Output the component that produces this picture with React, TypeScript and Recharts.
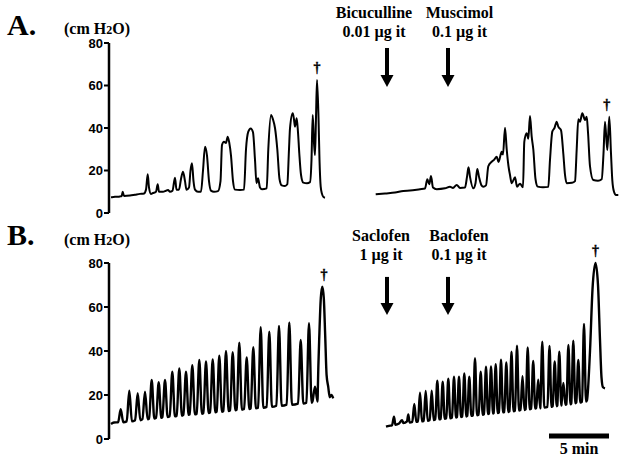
import { LineChart, Line, XAxis, YAxis, ReferenceDot, ReferenceLine } from "recharts"

// time axis is in seconds (5 min scale bar = 300 s), pressure in cm H2O
const timeDomain = [0, 2580]
const pressureTicks = [0, 20, 40, 60, 80]

// Panel A, control recording: [time, pressure]
const controlA: [number, number][] = [
  [10, 7.4], [30, 7.6], [55, 7.8], [63.5, 8], [68.5, 10], [75, 8], [105, 8.2], [130, 8.6],
  [155, 9], [175, 9.2], [185, 11], [193.5, 18.2], [200, 12], [210, 9], [220, 9.4], [235, 10],
  [243.5, 13.5], [250, 10], [270, 10], [285, 10.5], [295, 10.8], [305, 10], [317.5, 10.5],
  [330, 16.6], [337.5, 11], [350, 11], [360, 16], [370, 19.4], [380, 15], [387.5, 11], [400, 12],
  [407.5, 20], [415, 23.4], [422.5, 15], [430, 11], [445, 10], [460, 10], [470, 20], [480, 31.2],
  [490, 27], [500, 15], [510, 10.5], [525, 10], [545, 10.3], [557.5, 15], [565, 32], [575, 33.5],
  [585, 33], [593.5, 35.9], [601.5, 33], [610, 27], [620, 15], [630, 11], [655, 10.8], [675, 11],
  [685, 30], [696.5, 38.3], [708.5, 39.8], [720, 38], [730, 25], [737.5, 14], [745, 16.3],
  [755, 12], [765, 11.2], [788.5, 11.6], [796.5, 30], [810, 46.1], [820, 44], [830, 40],
  [841.5, 30], [852.5, 16], [863.5, 13], [880, 12.7], [891.5, 13.5], [900, 30], [905, 39.8],
  [918.5, 46.9], [925, 44], [930, 40.6], [938.5, 44.6], [945, 38], [951.5, 28], [960, 18],
  [971.5, 14.3], [990, 14], [1005, 14.5], [1012.5, 25], [1018.5, 46.1], [1025, 33], [1030, 27.3],
  [1035, 45], [1040, 62.6], [1047.5, 45], [1052.5, 25], [1058.5, 12.4], [1065, 9], [1072.5, 7.5],
  [1080, 7.2],
]

// Panel A, bicuculline / muscimol recording
const drugA: [number, number][] = [
  [1333.5, 8.8], [1380, 9.2], [1430, 9.6], [1471.5, 10.4], [1505, 10.6], [1555, 11.2], [1580, 11.5],
  [1591.5, 15.9], [1601.5, 13.5], [1610, 17.4], [1620, 12], [1638.5, 11.2], [1680, 11.6],
  [1705, 12.3], [1720, 11.8], [1738.5, 13.2], [1755, 11.8], [1780, 12], [1790, 17], [1797.5, 21.5],
  [1805, 17], [1821.5, 11.6], [1832.5, 14], [1841.5, 20.7], [1850, 17], [1862.5, 13],
  [1871.5, 12.4], [1885, 13], [1896.5, 22], [1913.5, 24.1], [1925, 25], [1938.5, 26.5],
  [1947.5, 24], [1963.5, 28.8], [1970, 27.5], [1980, 40.1], [1988.5, 30], [1997.5, 22],
  [2005, 17.9], [2013.5, 14], [2030, 16.8], [2040, 12.4], [2055, 13.8], [2070, 12.1],
  [2076.5, 33.5], [2088.5, 37.5], [2096.5, 35], [2105, 45.6], [2113.5, 35.9], [2121.5, 30],
  [2132.5, 16], [2143.5, 12.4], [2170, 12.1], [2196.5, 12.3], [2205, 25], [2216.5, 38.3],
  [2227.5, 40], [2238.5, 43], [2246.5, 40.6], [2260, 39], [2271.5, 28], [2280, 18], [2288.5, 14],
  [2315, 14.2], [2330, 15], [2338.5, 30], [2346.5, 44.1], [2355, 43], [2366.5, 46.9], [2380, 43.8],
  [2388.5, 45.3], [2395, 38], [2405, 22], [2421.5, 15.5], [2445, 15.2], [2463.5, 15.9],
  [2472.5, 28], [2480, 43], [2491.5, 29.6], [2501.5, 45.3], [2510, 28], [2516.5, 15.5],
  [2525, 10], [2535, 8.5], [2546.5, 8.5],
]

// Panel B, control recording: start, contractions [time, baseline, peak], end
const controlBStart: [number, number][] = [[10, 6.8], [25, 7.5]]
const controlBPeaks: [number, number, number][] = [
  [58.5, 7.6, 13.5], [101.5, 8, 22], [143.5, 8.5, 20.8], [180, 9, 21.5], [213.5, 9.3, 26.8],
  [248.5, 9.6, 25.8], [280, 10, 26.8], [316.5, 10.3, 30.6], [351.5, 10.6, 32.1], [385, 11, 30.6],
  [416.5, 11.2, 33.6], [451.5, 11.5, 35.9], [485, 11.8, 35.2], [518.5, 12.1, 36.2],
  [551.5, 12.4, 37.9], [585, 12.7, 40], [618.5, 13, 39.4], [651.5, 13.3, 43.8], [688.5, 13.6, 37.1],
  [721.5, 13.9, 41.7], [758.5, 14.2, 50.8], [801.5, 14.6, 48.8], [850, 15.1, 51.4],
  [901.5, 15.6, 53], [958.5, 16.1, 45], [1000, 16.5, 52.6], [1030, 17, 23.8],
]
const controlBEnd: [number, number][] = [
  [1044, 22], [1052, 48], [1059, 64], [1066.5, 69.2], [1074, 64], [1081, 47], [1088, 29],
  [1096, 23.8], [1104, 19], [1112, 20], [1121, 18.5],
]

// Panel B, saclofen / baclofen recording
const drugBStart: [number, number][] = [
  [1385, 5.6], [1400, 6], [1415, 6.2], [1425, 10.1], [1432, 6.5], [1450, 7], [1465, 8.6],
  [1472, 7.2], [1490, 8], [1496.5, 11.2], [1503, 7.5],
]
const drugBPeaks: [number, number, number][] = [
  [1526.5, 7.8, 15.9], [1555, 8, 21], [1583.5, 8.3, 21.8], [1613.5, 8.6, 22], [1641.5, 8.9, 26.5],
  [1668.5, 9.2, 26.1], [1696.5, 9.4, 27.4], [1725, 9.7, 28.3], [1750, 10, 28.3],
  [1776.5, 10.2, 29.8], [1801.5, 10.5, 28.3], [1830, 10.8, 36.7], [1858.5, 11, 30.6],
  [1885, 11.3, 32.9], [1910, 11.6, 33], [1933.5, 11.8, 34], [1960, 12.1, 36], [1986.5, 12.3, 34.8],
  [2012.5, 12.6, 39.7], [2040, 12.9, 42.4], [2067.5, 13.2, 28.5], [2093.5, 13.5, 41.6],
  [2121, 13.8, 35.5], [2146, 14, 27], [2166.5, 14.3, 44.2], [2202.5, 14.6, 42.3],
  [2228.5, 14.9, 35.2], [2251.5, 15.2, 39.7], [2272, 15.5, 25.5], [2297, 15.8, 42.7],
  [2321.5, 16.2, 44.7], [2346.5, 16.6, 35.9], [2375, 17, 52.3],
]
const drugBEnd: [number, number][] = [
  [2390, 17.7], [2405, 40], [2417.5, 68], [2432.5, 80], [2445, 70], [2455, 45], [2462.5, 28],
  [2470, 23.5], [2480, 23],
]

// drug injections (time in s)
const injectionsA = [
  { t: 1390, drug: "Bicuculline", dose: "0.01 µg it" },
  { t: 1695, drug: "Muscimol", dose: "0.1 µg it" },
]
const injectionsB = [
  { t: 1390, drug: "Saclofen", dose: "1 µg it" },
  { t: 1695, drug: "Baclofen", dose: "0.1 µg it" },
]

// † marks: animal death
const deathsA = [{ t: 1040, v: 62.6 }, { t: 2489, v: 45.3 }]
const deathsB = [{ t: 1075, v: 69.2 }, { t: 2433, v: 80 }]

const scaleBar = { start: 2200, length: 300, label: "5 min" }

const toPoints = (pairs: [number, number][]) => pairs.map(([t, v]) => ({ t, v }))

const fromPeaks = (
  start: [number, number][],
  peaks: [number, number, number][],
  end: [number, number][],
  halfWidth: number,
) => {
  const pairs: [number, number][] = [...start]
  peaks.forEach(([t, base, top]) => {
    pairs.push([t - halfWidth, base], [t, top], [t + halfWidth, base])
  })
  return toPoints([...pairs, ...end])
}

const serif = "'Liberation Serif', 'Times New Roman', serif"
const sans = "'Liberation Sans', Arial, sans-serif"

const arrowShape = (drug: string, dose: string, textDx: number, textDy: number, shaft: number) =>
  (p: any) => {
    const { cx, cy } = p
    return (
      <g>
        <text x={cx + textDx} y={cy + textDy} textAnchor="middle" fontFamily={serif} fontWeight="bold" fontSize={16} fill="#000">
          {drug}
        </text>
        <text x={cx + textDx} y={cy + textDy + 19} textAnchor="middle" fontFamily={serif} fontWeight="bold" fontSize={16} fill="#000">
          {dose}
        </text>
        <rect x={cx - 2} y={cy - shaft} width={4} height={shaft - 11} fill="#000" />
        <polygon points={`${cx - 6.5},${cy - 12} ${cx + 6.5},${cy - 12} ${cx},${cy}`} fill="#000" />
      </g>
    )
  }

const daggerShape = (p: any) => (
  <text x={p.cx} y={p.cy - 8} textAnchor="middle" fontFamily={serif} fontWeight="bold" fontSize={14}
    fill="#000" stroke="#000" strokeWidth={0.4}>
    †
  </text>
)

function PressureAxis() {
  return (
    <YAxis
      type="number"
      domain={[0, 80]}
      ticks={pressureTicks}
      width={109}
      axisLine={{ stroke: "#000", strokeWidth: 2.5 }}
      tickLine={{ stroke: "#000", strokeWidth: 2 }}
      tickSize={5}
      tickMargin={1}
      tick={{ fill: "#000", fontSize: 13, fontWeight: "bold", fontFamily: sans }}
    />
  )
}

export default function App() {
  const a1 = toPoints(controlA)
  const a2 = toPoints(drugA)
  const b1 = fromPeaks(controlBStart, controlBPeaks, controlBEnd, 13)
  const b2 = fromPeaks(drugBStart, drugBPeaks, drugBEnd, 10)

  const trace = { type: "monotone" as const, dataKey: "v", stroke: "#000", strokeWidth: 2, dot: false, isAnimationActive: false }

  return (
    <div style={{ position: "absolute", left: 0, top: 0, width: 625, height: 465, background: "#fff" }}>
      <div style={{ position: "absolute", left: 0, top: 0 }}>
        <LineChart width={625} height={230} margin={{ top: 43, right: 0, bottom: 17, left: 0 }}>
          <XAxis type="number" dataKey="t" domain={timeDomain} hide />
          {PressureAxis()}
          <Line {...trace} data={a1} />
          <Line {...trace} data={a2} />
          {injectionsA.map((d, i) => (
            <ReferenceDot key={d.drug} x={d.t} y={59.3} ifOverflow="visible"
              shape={arrowShape(d.drug, d.dose, i === 0 ? -13 : 11.5, -68.7, 39)} />
          ))}
          {deathsA.map((d) => (
            <ReferenceDot key={d.t} x={d.t} y={d.v} ifOverflow="visible" shape={daggerShape} />
          ))}
        </LineChart>
      </div>
      <div style={{ position: "absolute", left: 0, top: 220 }}>
        <LineChart width={625} height={245} margin={{ top: 43, right: 0, bottom: 26, left: 0 }}>
          <XAxis type="number" dataKey="t" domain={timeDomain} hide />
          {PressureAxis()}
          <Line {...trace} strokeWidth={2.4} data={b1} />
          <Line {...trace} strokeWidth={2.4} data={b2} />
          {injectionsB.map((d, i) => (
            <ReferenceDot key={d.drug} x={d.t} y={56.4} ifOverflow="visible"
              shape={arrowShape(d.drug, d.dose, i === 0 ? -6 : 11, -74.3, 38)} />
          ))}
          {deathsB.map((d) => (
            <ReferenceDot key={d.t} x={d.t} y={d.v} ifOverflow="visible" shape={daggerShape} />
          ))}
          <ReferenceLine
            segment={[{ x: scaleBar.start, y: 1.4 }, { x: scaleBar.start + scaleBar.length, y: 1.4 }]}
            stroke="#000"
            strokeWidth={5}
            ifOverflow="visible"
            label={{ value: scaleBar.label, position: "bottom", offset: 7, fill: "#000", fontSize: 16, fontWeight: "bold", fontFamily: serif }}
          />
        </LineChart>
      </div>
      <svg width={625} height={465} style={{ position: "absolute", left: 0, top: 0, pointerEvents: "none" }}>
        <g fontFamily={serif} fontWeight="bold" fill="#000">
          <text x={7} y={35} fontSize={30}>A.</text>
          <text x={7} y={245} fontSize={30}>B.</text>
          <text x={130} y={33.5} fontSize={16} textAnchor="end">
            (cm H<tspan fontSize={12}>2</tspan>O)
          </text>
          <text x={130} y={245} fontSize={16} textAnchor="end">
            (cm H<tspan fontSize={12}>2</tspan>O)
          </text>
        </g>
      </svg>
    </div>
  )
}
